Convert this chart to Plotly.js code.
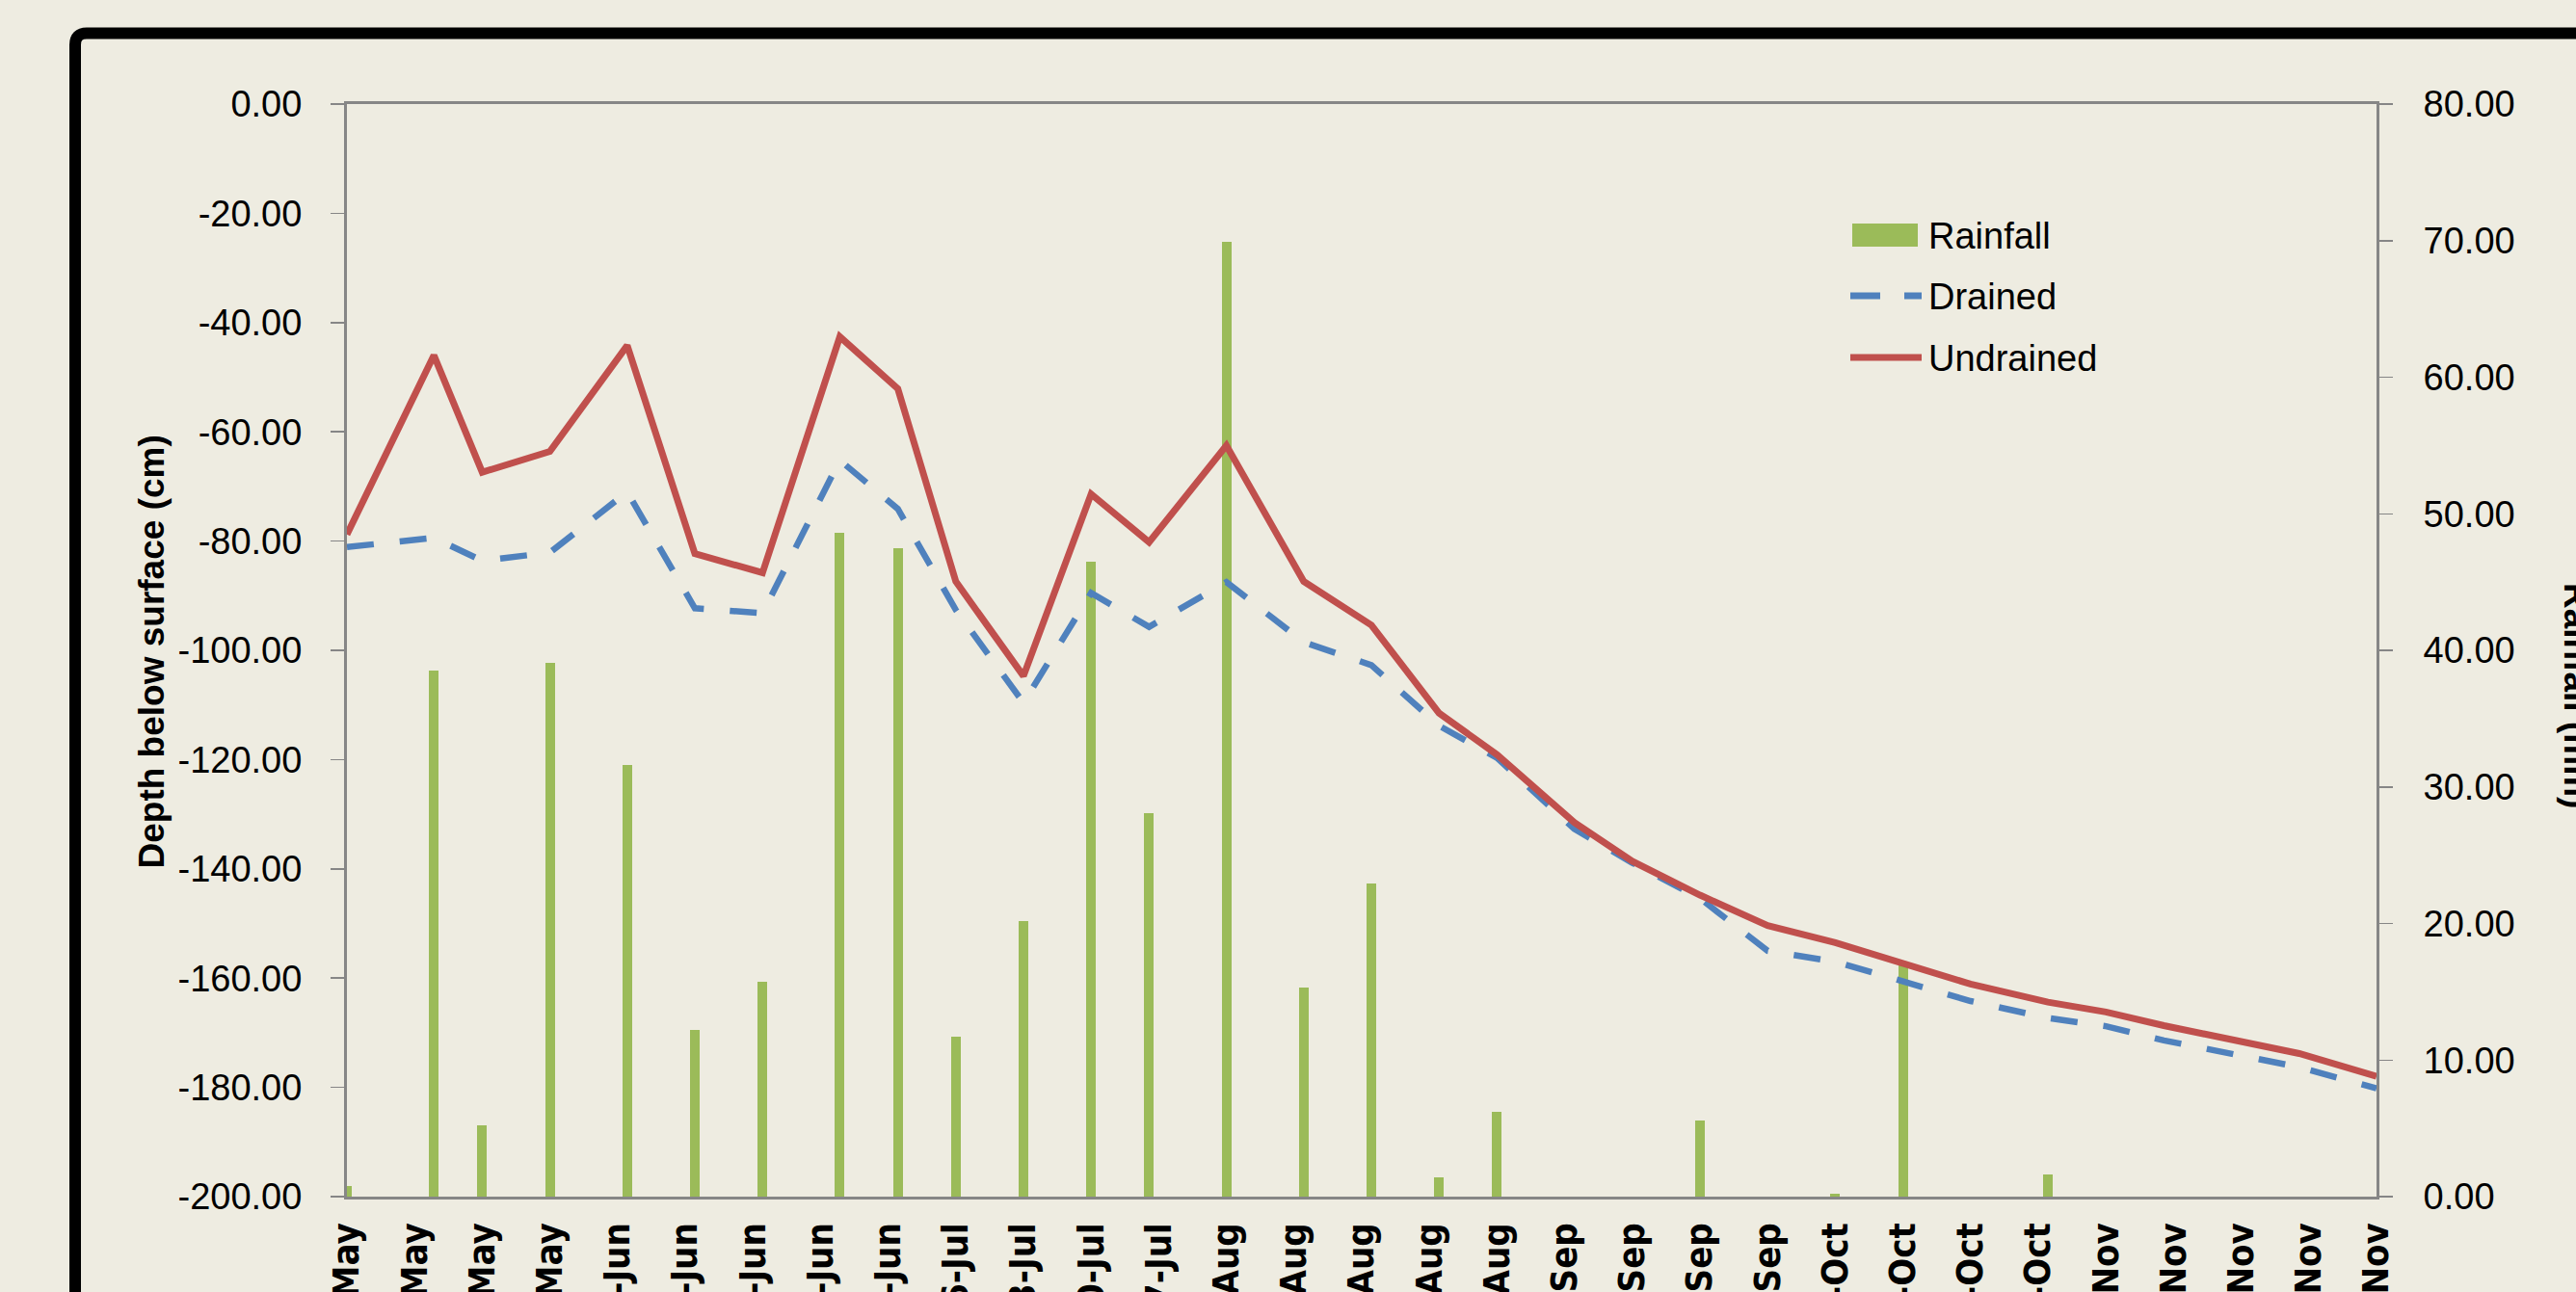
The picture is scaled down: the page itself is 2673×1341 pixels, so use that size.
<!DOCTYPE html>
<html>
<head>
<meta charset="utf-8">
<script src="https://cdn.plot.ly/plotly-3.0.1.min.js"></script>
<style>
html,body{margin:0;padding:0;background:#EEECE1;}
#chart{width:2673px;height:1341px;}
</style>
</head>
<body>
<div id="chart"></div>
<script>
// ---- data ----
var dates = ['2009-05-04','2009-05-13','2009-05-18','2009-05-25','2009-06-02','2009-06-09','2009-06-16',
  '2009-06-24','2009-06-30','2009-07-06','2009-07-13','2009-07-20','2009-07-26','2009-08-03','2009-08-11',
  '2009-08-18','2009-08-25','2009-08-31','2009-09-08','2009-09-14','2009-09-21','2009-09-28','2009-10-05',
  '2009-10-12','2009-10-19','2009-10-27','2009-11-02','2009-11-08','2009-11-15','2009-11-22','2009-11-30'];
var rainfall = [0.8,38.5,5.2,39.1,31.6,12.2,15.7,48.6,47.5,11.7,20.2,46.5,28.1,69.9,15.3,
  22.9,1.4,6.2,0,0,5.6,0,0.2,16.9,0,1.6,0,0,0,0,0];
var drained = [-81.1,-79.4,-83.6,-82.1,-71.0,-92.3,-93.2,-65.2,-74.1,-92.6,-109.6,-89.5,-95.7,-87.5,-98.5,
  -102.7,-113.8,-119.7,-132.7,-138.9,-145.4,-155.0,-157.0,-160.5,-164.2,-167.3,-168.8,-171.4,-173.8,-176.3,-180.2];
var undrained = [-78.8,-46.0,-67.4,-63.6,-44.2,-82.3,-85.8,-42.6,-52.1,-87.4,-104.7,-71.4,-80.2,-62.5,-87.4,
  -95.4,-111.5,-119.1,-131.5,-138.6,-144.8,-150.4,-153.5,-157.4,-161.1,-164.4,-166.2,-168.7,-171.2,-173.8,-178.0];
var depthTickVals = [0,-20,-40,-60,-80,-100,-120,-140,-160,-180,-200];
var depthTickText = ['0.00','-20.00','-40.00','-60.00','-80.00','-100.00','-120.00','-140.00','-160.00','-180.00','-200.00'];
var rainTickVals = [0,10,20,30,40,50,60,70,80];
var rainTickText = ['0.00','10.00','20.00','30.00','40.00','50.00','60.00','70.00','80.00'];
var seriesNames = ['Rainfall','Drained','Undrained'];
var axisTitles = ['Depth below surface (cm)','Rainfall (mm)'];
var xRange = ['2009-05-04','2009-11-30'];

// ---- layout helpers (pixel -> paper) ----
var W = 2673, H = 1341, ML = 360, MR = 207, MT = 108, MB = 99;
var PW = W - ML - MR, PH = H - MT - MB;
function px(x){ return (x - ML) / PW; }
function py(y){ return (H - MB - y) / PH; }

var FONT = 'Liberation Sans, Arial, sans-serif';
var NARROW = 'Liberation Sans Narrow, DejaVu Sans Condensed, Liberation Sans, sans-serif';
var GREEN = '#9BBB59', BLUE = '#4F81BD', RED = '#C0504D', GREY = '#868686';

var traces = [
  {type:'bar', name:seriesNames[0], x:dates, y:rainfall, yaxis:'y', width:86400000,
   marker:{color:GREEN, line:{width:0}}},
  {type:'scatter', mode:'lines', name:seriesNames[1], x:dates, y:drained, yaxis:'y2',
   line:{color:BLUE, width:6.5, dash:'28px,27px'}},
  {type:'scatter', mode:'lines', name:seriesNames[2], x:dates, y:undrained, yaxis:'y2',
   line:{color:RED, width:7}}
];

var r = 12;
var fx = px(78), ftop = py(34.5);
var framePath = 'M ' + fx + ',-0.3 L ' + fx + ',' + (ftop - r/PH) + ' Q ' + fx + ',' + ftop + ' ' +
  (fx + r/PW) + ',' + ftop + ' L 1.4,' + ftop;

var layout = {
  width: W, height: H,
  margin: {l:ML, r:MR, t:MT, b:MB, pad:0},
  paper_bgcolor: '#EEECE1', plot_bgcolor: '#EEECE1',
  showlegend: false,
  font: {family: FONT, size: 38, color: '#000'},
  bargap: 0,
  xaxis: {
    type: 'date', range: xRange, tick0: xRange[0], dtick: 7*86400000,
    tickformat: '%-d-%b', tickangle: -90, ticks: '', ticklabelstandoff: 9,
    tickfont: {family: NARROW, size: 38, color: '#000', weight: 'bold'},
    showline: true, linecolor: GREY, linewidth: 3, mirror: true,
    showgrid: false, zeroline: false, fixedrange: true
  },
  yaxis: {
    side: 'right', range: [0, 80], tickvals: rainTickVals, ticktext: rainTickText,
    ticks: 'outside', ticklen: 14, tickwidth: 1.5, tickcolor: GREY,
    ticklabelstandoff: 24,
    showline: true, linecolor: GREY, linewidth: 3,
    showgrid: false, zeroline: false, tickfont: {family: FONT, size: 38, color: '#000'}
  },
  yaxis2: {
    overlaying: 'y', side: 'left', range: [-200, 0], tickvals: depthTickVals, ticktext: depthTickText,
    ticks: 'outside', ticklen: 14, tickwidth: 1.5, tickcolor: GREY,
    ticklabelstandoff: 22,
    showline: true, linecolor: GREY, linewidth: 3,
    showgrid: false, zeroline: false, tickfont: {family: FONT, size: 38, color: '#000'}
  },
  shapes: [
    {type:'path', xref:'paper', yref:'paper', path: framePath, line:{color:'#000', width:12}, layer:'above'},
    {type:'rect', xref:'paper', yref:'paper', x0:px(1922), x1:px(1990), y0:py(256), y1:py(232),
     fillcolor:GREEN, line:{width:0}},
    {type:'line', xref:'paper', yref:'paper', x0:px(1920), x1:px(1994), y0:py(307), y1:py(307),
     line:{color:BLUE, width:7, dash:'31px,25px'}},
    {type:'line', xref:'paper', yref:'paper', x0:px(1920), x1:px(1994), y0:py(371), y1:py(371),
     line:{color:RED, width:7}}
  ],
  annotations: [
    {xref:'paper', yref:'paper', x:px(157.5), y:py(677), text:axisTitles[0], showarrow:false,
     textangle:-90, xanchor:'center', yanchor:'middle',
     font:{family:FONT, size:37, color:'#000', weight:'bold'}},
    {xref:'paper', yref:'paper', x:px(2674), y:py(722), text:axisTitles[1], showarrow:false,
     textangle:90, xanchor:'center', yanchor:'middle',
     font:{family:FONT, size:37, color:'#000', weight:'bold'}},
    {xref:'paper', yref:'paper', x:px(1999), y:py(245), text:seriesNames[0], showarrow:false,
     xanchor:'left', yanchor:'middle', font:{family:FONT, size:38, color:'#000'}},
    {xref:'paper', yref:'paper', x:px(1999), y:py(308), text:seriesNames[1], showarrow:false,
     xanchor:'left', yanchor:'middle', font:{family:FONT, size:38, color:'#000'}},
    {xref:'paper', yref:'paper', x:px(1999), y:py(372), text:seriesNames[2], showarrow:false,
     xanchor:'left', yanchor:'middle', font:{family:FONT, size:38, color:'#000'}}
  ]
};

Plotly.newPlot('chart', traces, layout, {staticPlot: true, displayModeBar: false});
</script>
</body>
</html>
